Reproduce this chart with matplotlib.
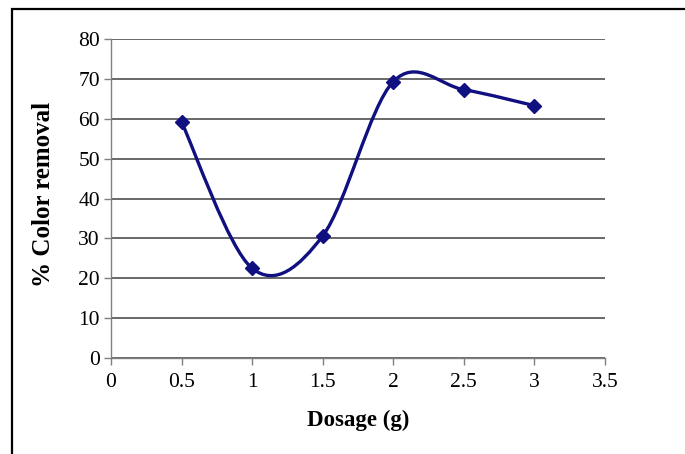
import matplotlib
matplotlib.use("Agg")
import matplotlib.pyplot as plt
import numpy as np
from matplotlib.path import Path
from matplotlib.patches import PathPatch, Rectangle

dosage = [0.5, 1.0, 1.5, 2.0, 2.5, 3.0]
color_removal = [59.2, 22.5, 30.6, 69.3, 67.3, 63.3]
x_ticks = [0, 0.5, 1, 1.5, 2, 2.5, 3, 3.5]
x_tick_labels = ["0", "0.5", "1", "1.5", "2", "2.5", "3", "3.5"]
y_ticks = [0, 10, 20, 30, 40, 50, 60, 70, 80]

plt.rcParams['font.family'] = ['Liberation Serif', 'DejaVu Serif']

fig = plt.figure(figsize=(6.85, 4.54), dpi=100)
ax = fig.add_axes([0.162, 0.2115, 0.721, 0.7025])

line_color = '#101080'

# Smoothed line (Catmull-Rom style Bezier segments)
pts = np.column_stack([dosage, color_removal])
n = len(pts)
verts = [tuple(pts[0])]
codes = [Path.MOVETO]
for i in range(n - 1):
    p0 = pts[i - 1] if i > 0 else pts[i]
    p1 = pts[i]
    p2 = pts[i + 1]
    p3 = pts[i + 2] if i + 2 < n else pts[i + 1]
    c1 = p1 + (p2 - p0) / 6.0
    c2 = p2 - (p3 - p1) / 6.0
    verts += [tuple(c1), tuple(c2), tuple(p2)]
    codes += [Path.CURVE4] * 3
ax.add_patch(PathPatch(Path(verts, codes), facecolor='none',
                       edgecolor=line_color, lw=2.4, zorder=3))
ax.plot(dosage, color_removal, linestyle='none', marker='D', markersize=7,
        color=line_color, zorder=4)

ax.set_xlim(0, 3.5)
ax.set_ylim(0, 80)
ax.set_xticks(x_ticks)
ax.set_xticklabels(x_tick_labels)
ax.set_yticks(y_ticks)
ax.yaxis.grid(True, color='#404040', lw=1.1)
ax.set_axisbelow(True)
for s in ['top', 'right']:
    ax.spines[s].set_visible(False)
for s in ['left', 'bottom']:
    ax.spines[s].set_color('#808080')
    ax.spines[s].set_linewidth(1.0)
ax.tick_params(axis='both', direction='out', length=5, width=1.0,
               color='#808080', labelsize=15.5)
ax.tick_params(axis='x', pad=6)
ax.tick_params(axis='y', pad=3)

ax.set_xlabel('Dosage (g)', fontsize=16.5, fontweight='bold', labelpad=13)
ax.text(44 / 685, 1 - 194 / 454, '% Color removal', transform=fig.transFigure,
        rotation=90, ha='center', va='center', fontsize=18, fontweight='bold')

# Outer frame around the chart area
fig.patches.append(Rectangle((12.5 / 685, -0.1), 1.0, 1.1 - 8.5 / 454,
                             transform=fig.transFigure, fill=False,
                             edgecolor='black', lw=1.6))

fig.savefig('out.png', dpi=100)
